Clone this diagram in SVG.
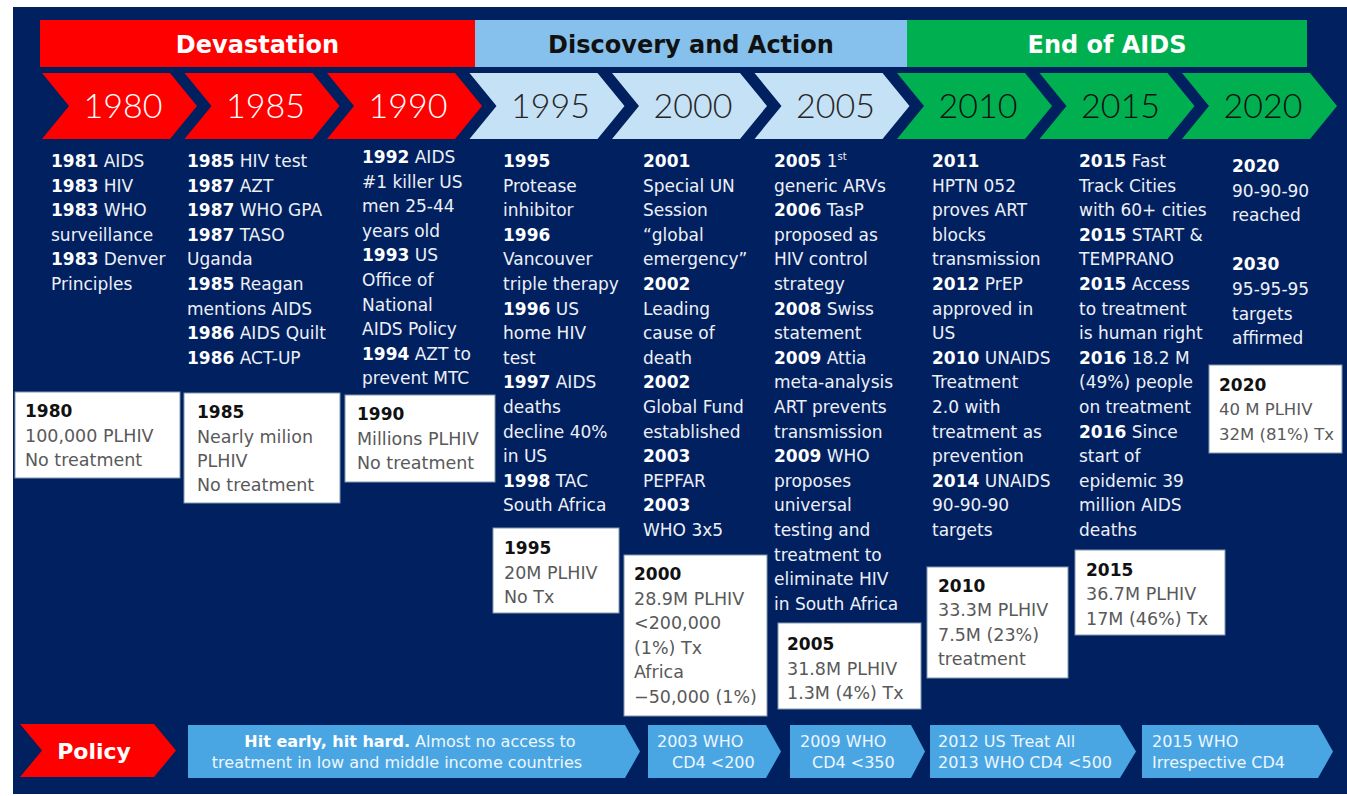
<svg xmlns="http://www.w3.org/2000/svg" width="1347" height="796" viewBox="0 0 1347 796">
<style>
.hdr{font-family:"DejaVu Sans",sans-serif;font-weight:bold;font-size:24px;text-anchor:middle}
.yr{font-family:"Lato","Liberation Sans",Arial,sans-serif;font-weight:300;font-size:34px;text-anchor:middle}
.red{fill:#FF0000}
.lb{fill:#C5E1F6}
.gr{fill:#00B050}
.body{font-family:"DejaVu Sans",sans-serif;font-size:17px;fill:#EEF0F7}
.b{font-weight:bold;fill:#FFFFFF}
.box{fill:#FFFFFF;stroke:#8497B0;stroke-width:1}
.bt{font-family:"DejaVu Sans",sans-serif;font-size:17.5px;fill:#595959}
.bt .b{fill:#111111;font-size:17px}
.pol{fill:#49A6E3}
.pt{font-family:"DejaVu Sans",sans-serif;font-size:16px;fill:#EEF6FF}
.pt .b{fill:#FFFFFF}
</style>
<rect x="13" y="7" width="1334" height="787" fill="#002060"/>

<g id="header-devastation">
<rect x="40" y="20" width="435" height="47" class="red"/>
<text x="257.5" y="53" class="hdr" fill="#FFFFFF">Devastation</text>
</g>
<g id="header-discovery">
<rect x="475" y="20" width="432" height="47" fill="#85C1EC"/>
<text x="691" y="53" class="hdr" fill="#111111">Discovery and Action</text>
</g>
<g id="header-end">
<rect x="907" y="20" width="400" height="47" class="gr"/>
<text x="1107" y="53" class="hdr" fill="#FFFFFF">End of AIDS</text>
</g>

<g id="chev-1980"><polygon class="red" points="42,73 170,73 197,106 170,139 42,139 69,106"/><text x="123" y="118" class="yr" fill="#FFFFFF">1980</text></g>
<g id="chev-1985"><polygon class="red" points="184.5,73 312.5,73 339.5,106 312.5,139 184.5,139 211.5,106"/><text x="265.5" y="118" class="yr" fill="#FFFFFF">1985</text></g>
<g id="chev-1990"><polygon class="red" points="327,73 455,73 482,106 455,139 327,139 354,106"/><text x="408" y="118" class="yr" fill="#FFFFFF">1990</text></g>
<g id="chev-1995"><polygon class="lb" points="469.5,73 597.5,73 624.5,106 597.5,139 469.5,139 496.5,106"/><text x="550.5" y="118" class="yr" fill="#262626">1995</text></g>
<g id="chev-2000"><polygon class="lb" points="612,73 740,73 767,106 740,139 612,139 639,106"/><text x="693" y="118" class="yr" fill="#262626">2000</text></g>
<g id="chev-2005"><polygon class="lb" points="754.5,73 882.5,73 909.5,106 882.5,139 754.5,139 781.5,106"/><text x="835.5" y="118" class="yr" fill="#262626">2005</text></g>
<g id="chev-2010"><polygon class="gr" points="897,73 1025,73 1052,106 1025,139 897,139 924,106"/><text x="978" y="118" class="yr" fill="#111111">2010</text></g>
<g id="chev-2015"><polygon class="gr" points="1039.5,73 1167.5,73 1194.5,106 1167.5,139 1039.5,139 1066.5,106"/><text x="1120.5" y="118" class="yr" fill="#111111">2015</text></g>
<g id="chev-2020"><polygon class="gr" points="1182,73 1310,73 1337,106 1310,139 1182,139 1209,106"/><text x="1263" y="118" class="yr" fill="#111111">2020</text></g>

<g id="events-1980">
<text class="body">
<tspan x="51" y="167"><tspan class="b">1981</tspan> AIDS</tspan>
<tspan x="51" y="191.6"><tspan class="b">1983</tspan> HIV</tspan>
<tspan x="51" y="216.2"><tspan class="b">1983</tspan> WHO</tspan>
<tspan x="51" y="240.8">surveillance</tspan>
<tspan x="51" y="265.4"><tspan class="b">1983</tspan> Denver</tspan>
<tspan x="51" y="290">Principles</tspan>
</text>
</g>
<g id="events-1985">
<text class="body">
<tspan x="187" y="167"><tspan class="b">1985</tspan> HIV test</tspan>
<tspan x="187" y="191.6"><tspan class="b">1987</tspan> AZT</tspan>
<tspan x="187" y="216.2"><tspan class="b">1987</tspan> WHO GPA</tspan>
<tspan x="187" y="240.8"><tspan class="b">1987</tspan> TASO</tspan>
<tspan x="187" y="265.4">Uganda</tspan>
<tspan x="187" y="290"><tspan class="b">1985</tspan> Reagan</tspan>
<tspan x="187" y="314.6">mentions AIDS</tspan>
<tspan x="187" y="339.2"><tspan class="b">1986</tspan> AIDS Quilt</tspan>
<tspan x="187" y="363.8"><tspan class="b">1986</tspan> ACT-UP</tspan>
</text>
</g>
<g id="events-1990">
<text class="body">
<tspan x="362" y="163"><tspan class="b">1992</tspan> AIDS</tspan>
<tspan x="362" y="187.6">#1 killer US</tspan>
<tspan x="362" y="212.2">men 25-44</tspan>
<tspan x="362" y="236.8">years old</tspan>
<tspan x="362" y="261.4"><tspan class="b">1993</tspan> US</tspan>
<tspan x="362" y="286">Office of</tspan>
<tspan x="362" y="310.6">National</tspan>
<tspan x="362" y="335.2">AIDS Policy</tspan>
<tspan x="362" y="359.8"><tspan class="b">1994</tspan> AZT to</tspan>
<tspan x="362" y="384.4">prevent MTC</tspan>
</text>
</g>
<g id="events-1995">
<text class="body">
<tspan x="503" y="167" class="b">1995</tspan>
<tspan x="503" y="191.6">Protease</tspan>
<tspan x="503" y="216.2">inhibitor</tspan>
<tspan x="503" y="240.8" class="b">1996</tspan>
<tspan x="503" y="265.4">Vancouver</tspan>
<tspan x="503" y="290">triple therapy</tspan>
<tspan x="503" y="314.6"><tspan class="b">1996</tspan> US</tspan>
<tspan x="503" y="339.2">home HIV</tspan>
<tspan x="503" y="363.8">test</tspan>
<tspan x="503" y="388.4"><tspan class="b">1997</tspan> AIDS</tspan>
<tspan x="503" y="413">deaths</tspan>
<tspan x="503" y="437.6">decline 40%</tspan>
<tspan x="503" y="462.2">in US</tspan>
<tspan x="503" y="486.8"><tspan class="b">1998</tspan> TAC</tspan>
<tspan x="503" y="511.4">South Africa</tspan>
</text>
</g>
<g id="events-2000">
<text class="body">
<tspan x="643" y="167" class="b">2001</tspan>
<tspan x="643" y="191.6">Special UN</tspan>
<tspan x="643" y="216.2">Session</tspan>
<tspan x="643" y="240.8">“global</tspan>
<tspan x="643" y="265.4">emergency”</tspan>
<tspan x="643" y="290" class="b">2002</tspan>
<tspan x="643" y="314.6">Leading</tspan>
<tspan x="643" y="339.2">cause of</tspan>
<tspan x="643" y="363.8">death</tspan>
<tspan x="643" y="388.4" class="b">2002</tspan>
<tspan x="643" y="413">Global Fund</tspan>
<tspan x="643" y="437.6">established</tspan>
<tspan x="643" y="462.2" class="b">2003</tspan>
<tspan x="643" y="486.8">PEPFAR</tspan>
<tspan x="643" y="511.4" class="b">2003</tspan>
<tspan x="643" y="536">WHO 3x5</tspan>
</text>
</g>
<g id="events-2005">
<text class="body">
<tspan x="774" y="167"><tspan class="b">2005</tspan> 1<tspan font-size="10" dy="-7">st</tspan></tspan>
<tspan x="774" y="191.6">generic ARVs</tspan>
<tspan x="774" y="216.2"><tspan class="b">2006</tspan> TasP</tspan>
<tspan x="774" y="240.8">proposed as</tspan>
<tspan x="774" y="265.4">HIV control</tspan>
<tspan x="774" y="290">strategy</tspan>
<tspan x="774" y="314.6"><tspan class="b">2008</tspan> Swiss</tspan>
<tspan x="774" y="339.2">statement</tspan>
<tspan x="774" y="363.8"><tspan class="b">2009</tspan> Attia</tspan>
<tspan x="774" y="388.4">meta-analysis</tspan>
<tspan x="774" y="413">ART prevents</tspan>
<tspan x="774" y="437.6">transmission</tspan>
<tspan x="774" y="462.2"><tspan class="b">2009</tspan> WHO</tspan>
<tspan x="774" y="486.8">proposes</tspan>
<tspan x="774" y="511.4">universal</tspan>
<tspan x="774" y="536">testing and</tspan>
<tspan x="774" y="560.6">treatment to</tspan>
<tspan x="774" y="585.2">eliminate HIV</tspan>
<tspan x="774" y="609.8">in South Africa</tspan>
</text>
</g>
<g id="events-2010">
<text class="body">
<tspan x="932" y="167" class="b">2011</tspan>
<tspan x="932" y="191.6">HPTN 052</tspan>
<tspan x="932" y="216.2">proves ART</tspan>
<tspan x="932" y="240.8">blocks</tspan>
<tspan x="932" y="265.4">transmission</tspan>
<tspan x="932" y="290"><tspan class="b">2012</tspan> PrEP</tspan>
<tspan x="932" y="314.6">approved in</tspan>
<tspan x="932" y="339.2">US</tspan>
<tspan x="932" y="363.8"><tspan class="b">2010</tspan> UNAIDS</tspan>
<tspan x="932" y="388.4">Treatment</tspan>
<tspan x="932" y="413">2.0 with</tspan>
<tspan x="932" y="437.6">treatment as</tspan>
<tspan x="932" y="462.2">prevention</tspan>
<tspan x="932" y="486.8"><tspan class="b">2014</tspan> UNAIDS</tspan>
<tspan x="932" y="511.4">90-90-90</tspan>
<tspan x="932" y="536">targets</tspan>
</text>
</g>
<g id="events-2015">
<text class="body">
<tspan x="1079" y="167"><tspan class="b">2015</tspan> Fast</tspan>
<tspan x="1079" y="191.6">Track Cities</tspan>
<tspan x="1079" y="216.2">with 60+ cities</tspan>
<tspan x="1079" y="240.8"><tspan class="b">2015</tspan> START &amp;</tspan>
<tspan x="1079" y="265.4">TEMPRANO</tspan>
<tspan x="1079" y="290"><tspan class="b">2015</tspan> Access</tspan>
<tspan x="1079" y="314.6">to treatment</tspan>
<tspan x="1079" y="339.2">is human right</tspan>
<tspan x="1079" y="363.8"><tspan class="b">2016</tspan> 18.2 M</tspan>
<tspan x="1079" y="388.4">(49%) people</tspan>
<tspan x="1079" y="413">on treatment</tspan>
<tspan x="1079" y="437.6"><tspan class="b">2016</tspan> Since</tspan>
<tspan x="1079" y="462.2">start of</tspan>
<tspan x="1079" y="486.8">epidemic 39</tspan>
<tspan x="1079" y="511.4">million AIDS</tspan>
<tspan x="1079" y="536">deaths</tspan>
</text>
</g>
<g id="events-2020">
<text class="body">
<tspan x="1232" y="172" class="b">2020</tspan>
<tspan x="1232" y="196.6">90-90-90</tspan>
<tspan x="1232" y="221.2">reached</tspan>
<tspan x="1232" y="270.4" class="b">2030</tspan>
<tspan x="1232" y="295">95-95-95</tspan>
<tspan x="1232" y="319.6">targets</tspan>
<tspan x="1232" y="344.2">affirmed</tspan>
</text>
</g>

<g id="stat-1980">
<rect class="box" x="15" y="392" width="165" height="86"/>
<text class="bt"><tspan x="25" y="417" class="b">1980</tspan><tspan x="25" y="442">100,000 PLHIV</tspan><tspan x="25" y="466">No treatment</tspan></text>
</g>
<g id="stat-1985">
<rect class="box" x="184" y="393" width="156" height="110"/>
<text class="bt"><tspan x="197" y="418" class="b">1985</tspan><tspan x="197" y="442.5">Nearly milion</tspan><tspan x="197" y="467">PLHIV</tspan><tspan x="197" y="491">No treatment</tspan></text>
</g>
<g id="stat-1990">
<rect class="box" x="345" y="395" width="150" height="87"/>
<text class="bt"><tspan x="357" y="420" class="b">1990</tspan><tspan x="357" y="444.5">Millions PLHIV</tspan><tspan x="357" y="469">No treatment</tspan></text>
</g>
<g id="stat-1995">
<rect class="box" x="493" y="528" width="126" height="85"/>
<text class="bt"><tspan x="504" y="554" class="b">1995</tspan><tspan x="504" y="578.5">20M PLHIV</tspan><tspan x="504" y="603">No Tx</tspan></text>
</g>
<g id="stat-2000">
<rect class="box" x="624" y="555" width="143" height="161"/>
<text class="bt"><tspan x="634" y="580" class="b">2000</tspan><tspan x="634" y="604.6">28.9M PLHIV</tspan><tspan x="634" y="629">&lt;200,000</tspan><tspan x="634" y="653.7">(1%) Tx</tspan><tspan x="634" y="678">Africa</tspan><tspan x="634" y="702.7">−50,000 (1%)</tspan></text>
</g>
<g id="stat-2005">
<rect class="box" x="778" y="623" width="143" height="86"/>
<text class="bt"><tspan x="787" y="650" class="b">2005</tspan><tspan x="787" y="674.6">31.8M PLHIV</tspan><tspan x="787" y="699">1.3M (4%) Tx</tspan></text>
</g>
<g id="stat-2010">
<rect class="box" x="927" y="567" width="141" height="111"/>
<text class="bt"><tspan x="938" y="591.7" class="b">2010</tspan><tspan x="938" y="616">33.3M PLHIV</tspan><tspan x="938" y="640.7">7.5M (23%)</tspan><tspan x="938" y="665">treatment</tspan></text>
</g>
<g id="stat-2015">
<rect class="box" x="1075" y="550" width="150" height="85"/>
<text class="bt"><tspan x="1086" y="575.7" class="b">2015</tspan><tspan x="1086" y="600">36.7M PLHIV</tspan><tspan x="1086" y="624.7">17M (46%) Tx</tspan></text>
</g>
<g id="stat-2020">
<rect class="box" x="1209" y="365" width="133" height="88"/>
<text class="bt" style="font-size:16.5px"><tspan x="1219" y="390.7" class="b">2020</tspan><tspan x="1219" y="415">40 M PLHIV</tspan><tspan x="1219" y="439.5">32M (81%) Tx</tspan></text>
</g>

<g id="policy-label">
<polygon class="red" points="20,724 154,724 176,750.5 154,777 20,777 42,750.5"/>
<text x="94" y="759" font-family="DejaVu Sans, sans-serif" font-weight="bold" font-size="22" fill="#FFFFFF" text-anchor="middle">Policy</text>
</g>
<g id="policy-1980s">
<polygon class="pol" points="188,725 625,725 640,751.5 625,778 188,778"/>
<text class="pt" text-anchor="middle"><tspan x="410" y="747"><tspan class="b" font-weight="bold">Hit early, hit hard.</tspan> Almost no access to</tspan><tspan x="397" y="768">treatment in low and middle income countries</tspan></text>
</g>
<g id="policy-2003">
<polygon class="pol" points="648,725 766,725 781,751.5 766,778 648,778"/>
<text class="pt"><tspan x="657" y="747">2003 WHO</tspan><tspan x="672" y="768">CD4 &lt;200</tspan></text>
</g>
<g id="policy-2009">
<polygon class="pol" points="790,725 911,725 925,751.5 911,778 790,778"/>
<text class="pt"><tspan x="800" y="747">2009 WHO</tspan><tspan x="812" y="768">CD4 &lt;350</tspan></text>
</g>
<g id="policy-2012">
<polygon class="pol" points="930,725 1120,725 1136,751.5 1120,778 930,778"/>
<text class="pt"><tspan x="938" y="747">2012 US Treat All</tspan><tspan x="938" y="768">2013 WHO CD4 &lt;500</tspan></text>
</g>
<g id="policy-2015">
<polygon class="pol" points="1142,725 1318,725 1333,751.5 1318,778 1142,778"/>
<text class="pt"><tspan x="1152" y="747">2015 WHO</tspan><tspan x="1152" y="768">Irrespective CD4</tspan></text>
</g>
<g id="connectors"/>
</svg>
